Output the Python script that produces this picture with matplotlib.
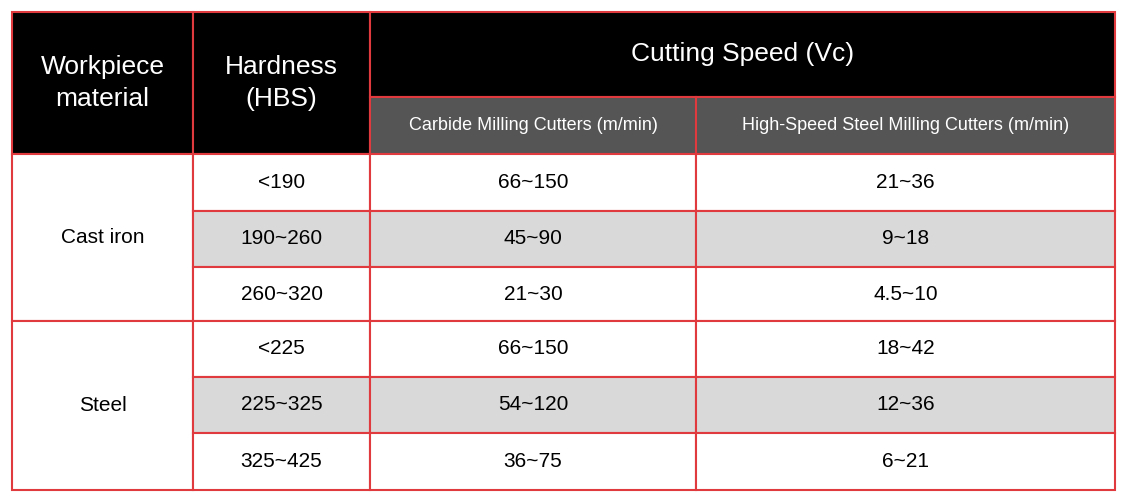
import matplotlib
matplotlib.use("Agg")
import matplotlib.pyplot as plt
from matplotlib.patches import Rectangle

materials = ["Cast iron", "Steel"]
hardness = ["<190", "190~260", "260~320", "<225", "225~325", "325~425"]
carbide = ["66~150", "45~90", "21~30", "66~150", "54~120", "36~75"]
hss = ["21~36", "9~18", "4.5~10", "18~42", "12~36", "6~21"]
col_headers = ["Workpiece\nmaterial", "Hardness\n(HBS)", "Cutting Speed (Vc)"]
sub_headers = ["Carbide Milling Cutters (m/min)", "High-Speed Steel Milling Cutters (m/min)"]

plt.rcParams['font.family'] = ['Liberation Sans', 'DejaVu Sans']
fig = plt.figure(figsize=(11.31, 5.04), dpi=100)
ax = fig.add_axes([0, 0, 1, 1])
ax.set_xlim(0, 1131); ax.set_ylim(504, 0); ax.axis('off')

xs = [12, 193, 370, 696, 1115]
ys = [154, 211, 267, 321, 377, 433, 490]
top, mid = 12, 97
red = '#e0393e'
lw = 1.5

def rect(x0, y0, x1, y1, fc):
    ax.add_patch(Rectangle((x0, y0), x1 - x0, y1 - y0, facecolor=fc, edgecolor=red, lw=lw))

# header
rect(xs[0], top, xs[1], ys[0], 'black')
rect(xs[1], top, xs[2], ys[0], 'black')
rect(xs[2], top, xs[4], mid, 'black')
rect(xs[2], mid, xs[3], ys[0], '#555555')
rect(xs[3], mid, xs[4], ys[0], '#555555')
ax.text((xs[0]+xs[1])/2, (top+ys[0])/2, col_headers[0], color='white', fontsize=19, ha='center', va='center', linespacing=1.4)
ax.text((xs[1]+xs[2])/2, (top+ys[0])/2, col_headers[1], color='white', fontsize=19, ha='center', va='center', linespacing=1.4)
ax.text((xs[2]+xs[4])/2, (top+mid)/2, col_headers[2], color='white', fontsize=19, ha='center', va='center')
ax.text((xs[2]+xs[3])/2, (mid+ys[0])/2, sub_headers[0], color='white', fontsize=13, ha='center', va='center')
ax.text((xs[3]+xs[4])/2, (mid+ys[0])/2, sub_headers[1], color='white', fontsize=13, ha='center', va='center')

# material cells
for m, mat in enumerate(materials):
    y0, y1 = ys[3*m], ys[3*m+3]
    rect(xs[0], y0, xs[1], y1, 'white')
    ax.text((xs[0]+xs[1])/2, (y0+y1)/2, mat, fontsize=15, ha='center', va='center')

for i in range(6):
    y0, y1 = ys[i], ys[i+1]
    fc = '#d9d9d9' if i % 3 == 1 else 'white'
    for c, vals in enumerate([hardness, carbide, hss]):
        rect(xs[c+1], y0, xs[c+2], y1, fc)
        ax.text((xs[c+1]+xs[c+2])/2, (y0+y1)/2, vals[i], fontsize=15, ha='center', va='center')

fig.savefig('out.png', dpi=100, facecolor='white')
